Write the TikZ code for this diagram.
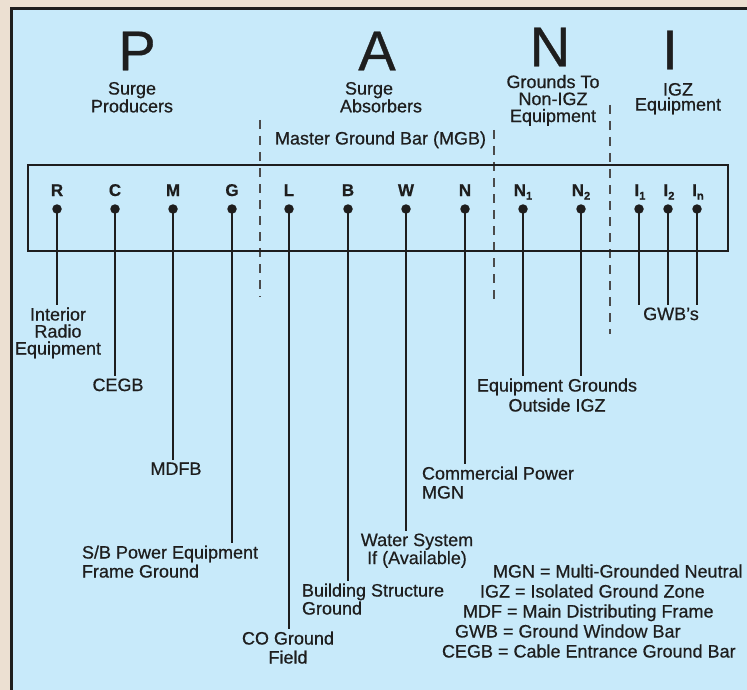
\documentclass[tikz,border=0pt]{standalone}
\usepackage{fontspec}
\setmainfont{Liberation Sans}[FakeBold=0.6]
\newfontfamily\txtfont{Liberation Sans}[FakeBold=0.6,Ligatures=TeX]
\definecolor{beige}{HTML}{ECE0D2}
\definecolor{panel}{HTML}{C8EAFA}
\definecolor{inkc}{HTML}{1E1E1E}
\tikzset{
  wire/.style={draw=inkc, line width=1.8pt},
  sepline/.style={draw=inkc!80, line width=1.4pt, dash pattern=on 9pt off 7pt},
  dotn/.style={circle, fill=inkc, inner sep=0pt, minimum size=9.5pt},
  term/.style={font=\fontsize{17}{17}\selectfont\bfseries, text=inkc, inner sep=0pt, anchor=base},
  lbl/.style={font=\txtfont\fontsize{18}{18}\selectfont, text=inkc, inner sep=0pt, outer sep=3pt, align=center},
  lh/.style={font=\txtfont\fontsize{18}{#1}\selectfont},
  big/.style={font=\txtfont\fontsize{56}{56}\selectfont, text=inkc, inner sep=0pt},
}
\newcommand{\sbx}[1]{\raisebox{-3.5pt}{\fontsize{11}{11}\selectfont #1}}
\begin{document}
\begin{tikzpicture}[x=1pt,y=-1pt]
\useasboundingbox (0,0) rectangle (747,690);
\fill[beige] (0,0) rectangle (747,690);
\fill[panel] (10,7) rectangle (747,690);
\draw[inkc, line width=3pt] (11.5,690) -- (11.5,8.5) -- (747,8.5);

% big letters
\node[big] (bigP) at (137,51) {P};
\node[big] (bigA) at (377,51) {A};
\node[big] (bigN) at (550,47) {N};
\node[big] (bigI) at (670,50) {I};

% headers
\node[lbl, lh=15, anchor=north] (hdrP) at (132,79) {Surge\\Producers};
\node[lbl, lh=15, align=left, anchor=north west] (hdrA) at (337,79) {\hspace*{5pt}Surge\\Absorbers};
\node[lbl, lh=17, anchor=north] (hdrN) at (553,72) {Grounds To\\Non-IGZ\\Equipment};
\node[lbl, lh=15, anchor=north] (hdrI) at (678,80) {IGZ\\Equipment};
\node[lbl, anchor=base west] (mgbt) at (272,144.5) {Master Ground Bar (MGB)};

% separators
\draw[sepline] (260,120) -- (260,297);
\draw[sepline] (494,130) -- (494,300);
\draw[sepline] (610,105) -- (610,334);

% bar
\node[draw=inkc, line width=1.8pt, inner sep=0pt, minimum width=700pt, minimum height=86pt, anchor=north west] (mgb) at (27,164) {};

% terminal labels
\node[term] (tR) at (57,196) {R};
\node[term] (tC) at (115,196) {C};
\node[term] (tM) at (173,196) {M};
\node[term] (tG) at (232,196) {G};
\node[term] (tL) at (289,196) {L};
\node[term] (tB) at (348,196) {B};
\node[term] (tW) at (406,196) {W};
\node[term] (tN) at (465,196) {N};
\node[term] (tN1) at (523,196) {N\sbx{1}};
\node[term] (tN2) at (581,196) {N\sbx{2}};
\node[term] (tI1) at (640,196) {I\sbx{1}};
\node[term] (tI2) at (669,196) {I\sbx{2}};
\node[term] (tIn) at (698,196) {I\sbx{n}};

% dots
\node[dotn] (dR) at (57,209) {};
\node[dotn] (dC) at (115,209) {};
\node[dotn] (dM) at (173,209) {};
\node[dotn] (dG) at (232,209) {};
\node[dotn] (dL) at (289,209) {};
\node[dotn] (dB) at (348,209) {};
\node[dotn] (dW) at (406,209) {};
\node[dotn] (dN) at (465,209) {};
\node[dotn] (dN1) at (523,209) {};
\node[dotn] (dN2) at (581,209) {};
\node[dotn] (dI1) at (639,209) {};
\node[dotn] (dI2) at (668,209) {};
\node[dotn] (dIn) at (697,209) {};

% bottom labels
\node[lbl, lh=17, anchor=north] (lR) at (58,304.5) {Interior\\Radio\\Equipment};
\node[lbl, anchor=north] (lC) at (118,375.5) {CEGB};
\node[lbl, anchor=north] (lM) at (176,459.5) {MDFB};
\node[lbl, lh=19, align=left, anchor=north west] (lG) at (79,542.5) {S/B Power Equipment\\Frame Ground};
\node[lbl, lh=19, anchor=north] (lL) at (288,628.5) {CO Ground\\Field};
\node[lbl, lh=18, align=left, anchor=north west] (lB) at (299,580.5) {Building Structure\\Ground};
\node[lbl, lh=18, anchor=north] (lW) at (417,530.5) {Water System\\If (Available)};
\node[lbl, lh=19, align=left, anchor=north west] (lN) at (419,463.5) {Commercial Power\\MGN};
\node[lbl, lh=20, anchor=north] (lNN) at (557,375.5) {Equipment Grounds\\Outside IGZ};
\node[lbl, anchor=north] (lI) at (671,304.5) {GWB's};

% wires
\draw[wire] (dR.center) -- (dR |- lR.north);
\draw[wire] (dC.center) -- (dC |- lC.north);
\draw[wire] (dM.center) -- (dM |- lM.north);
\draw[wire] (dG.center) -- (dG |- lG.north);
\draw[wire] (dL.center) -- (dL |- lL.north);
\draw[wire] (dB.center) -- (dB |- lB.north);
\draw[wire] (dW.center) -- (dW |- lW.north);
\draw[wire] (dN.center) -- (dN |- lN.north);
\draw[wire] (dN1.center) -- (dN1 |- lNN.north);
\draw[wire] (dN2.center) -- (dN2 |- lNN.north);
\draw[wire] (dI1.center) -- (dI1 |- lI.north);
\draw[wire] (dI2.center) -- (dI2 |- lI.north);
\draw[wire] (dIn.center) -- (dIn |- lI.north);

% legend
\node[lbl, anchor=base west] (lg1) at (490,577.5) {MGN = Multi-Grounded Neutral};
\node[lbl, anchor=base west] (lg2) at (477,597.5) {IGZ = Isolated Ground Zone};
\node[lbl, anchor=base west] (lg3) at (460,617.5) {MDF = Main Distributing Frame};
\node[lbl, anchor=base west] (lg4) at (452,637.5) {GWB = Ground Window Bar};
\node[lbl, anchor=base west] (lg5) at (439,657.5) {CEGB = Cable Entrance Ground Bar};
\end{tikzpicture}
\end{document}
